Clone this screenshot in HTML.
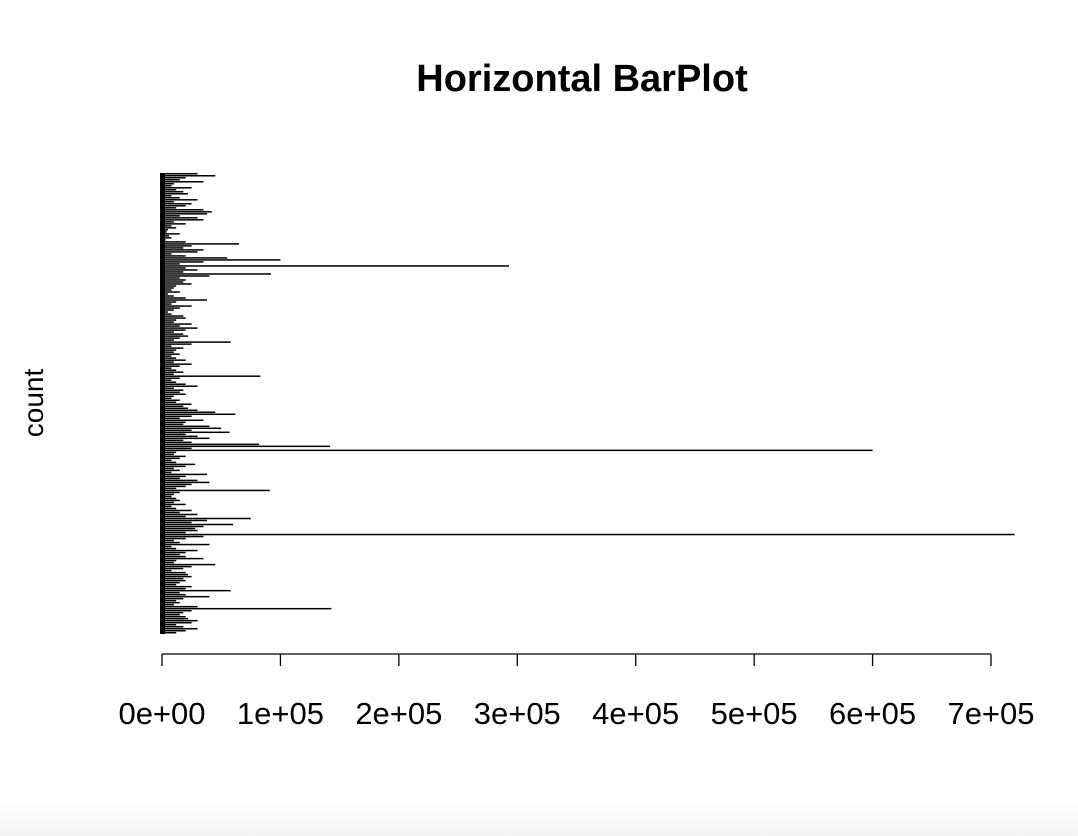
<!DOCTYPE html>
<html><head><meta charset="utf-8"><style>
body{margin:0;background:#fff;font-family:"Liberation Sans",sans-serif}
#wrap{position:relative;width:1078px;height:836px;overflow:hidden}
#foot{position:absolute;left:0;top:800px;width:1078px;height:36px;background:linear-gradient(#fff,#f3f3f3)}
</style></head><body>
<div id="wrap">
<svg id="chart" width="1078" height="800"></svg>
<div id="foot"></div>
</div>
<script>
const values = [30,45,20,15,35,10,8,25,12,18,
22,8,15,30,10,25,20,12,35,42,
38,15,30,35,10,20,8,12,5,4,
15,6,8,3,20,65,25,18,35,30,
8,20,55,100,35,15,293,20,30,18,
92,40,15,20,18,25,12,10,8,15,
5,10,20,38,12,8,25,15,10,5,
8,18,20,12,10,25,15,30,20,10,
18,22,15,10,58,25,8,18,12,10,
15,8,12,20,10,25,15,8,12,18,
10,83,15,8,12,20,30,10,18,15,
20,10,8,15,12,25,18,22,30,45,
62,25,15,35,20,18,40,50,25,57,
20,30,40,18,25,82,142,25,600,12,
10,20,15,8,12,28,20,10,15,8,
38,20,15,30,40,25,20,12,91,15,
10,8,12,15,10,20,8,12,25,15,
30,20,75,38,25,60,35,28,30,20,
720,35,20,10,15,40,8,12,30,20,
15,20,35,12,10,45,25,18,8,20,
22,25,18,20,15,12,25,20,58,15,
20,40,18,12,15,10,30,143,25,18,
15,20,22,30,25,12,18,30,20,12].map(v=>v*1000);
const tickValues = [0,100000,200000,300000,400000,500000,600000,700000];
const tickLabels = ["0e+00","1e+05","2e+05","3e+05","4e+05","5e+05","6e+05","7e+05"];

const NS="http://www.w3.org/2000/svg";
const svg=document.getElementById('chart');
const x0=162, pxPer=(991-162)/700000;
const xs=v=>x0+v*pxPer;
const barTop=173, barBottom=634, bh=(barBottom-barTop)/values.length;
function mk(t,a){const e=document.createElementNS(NS,t);for(const k in a)e.setAttribute(k,a[k]);svg.appendChild(e);return e;}
const base=mk('rect',{x:x0-2,y:barTop,width:5,height:barBottom-barTop,fill:'#000'});


values.forEach((v,i)=>{
  const r=mk('rect',{x:x0-1,y:barTop+i*bh,width:Math.max(1,xs(v)-x0+1),height:1.5,fill:'#000'});
  
  
});
const ax=mk('line',{x1:xs(0),x2:xs(700000),y1:654,y2:654,stroke:'#000','stroke-width':1.3});


tickValues.forEach((t,i)=>{
  const l=mk('line',{x1:xs(t),x2:xs(t),y1:654,y2:666,stroke:'#000','stroke-width':1.3});
  
  
  const tx=mk('text',{x:xs(t),y:724,'text-anchor':'middle','font-size':31,fill:'#000'});
  tx.textContent=tickLabels[i];
  
  
});
const ti=mk('text',{x:582,y:91,'text-anchor':'middle','font-size':38,'font-weight':'bold'});
ti.textContent='Horizontal BarPlot';


const yl=mk('text',{x:0,y:0,'text-anchor':'middle','font-size':28,transform:'translate(43,403) rotate(-90)'});
yl.textContent='count';


</script>
</body></html>
